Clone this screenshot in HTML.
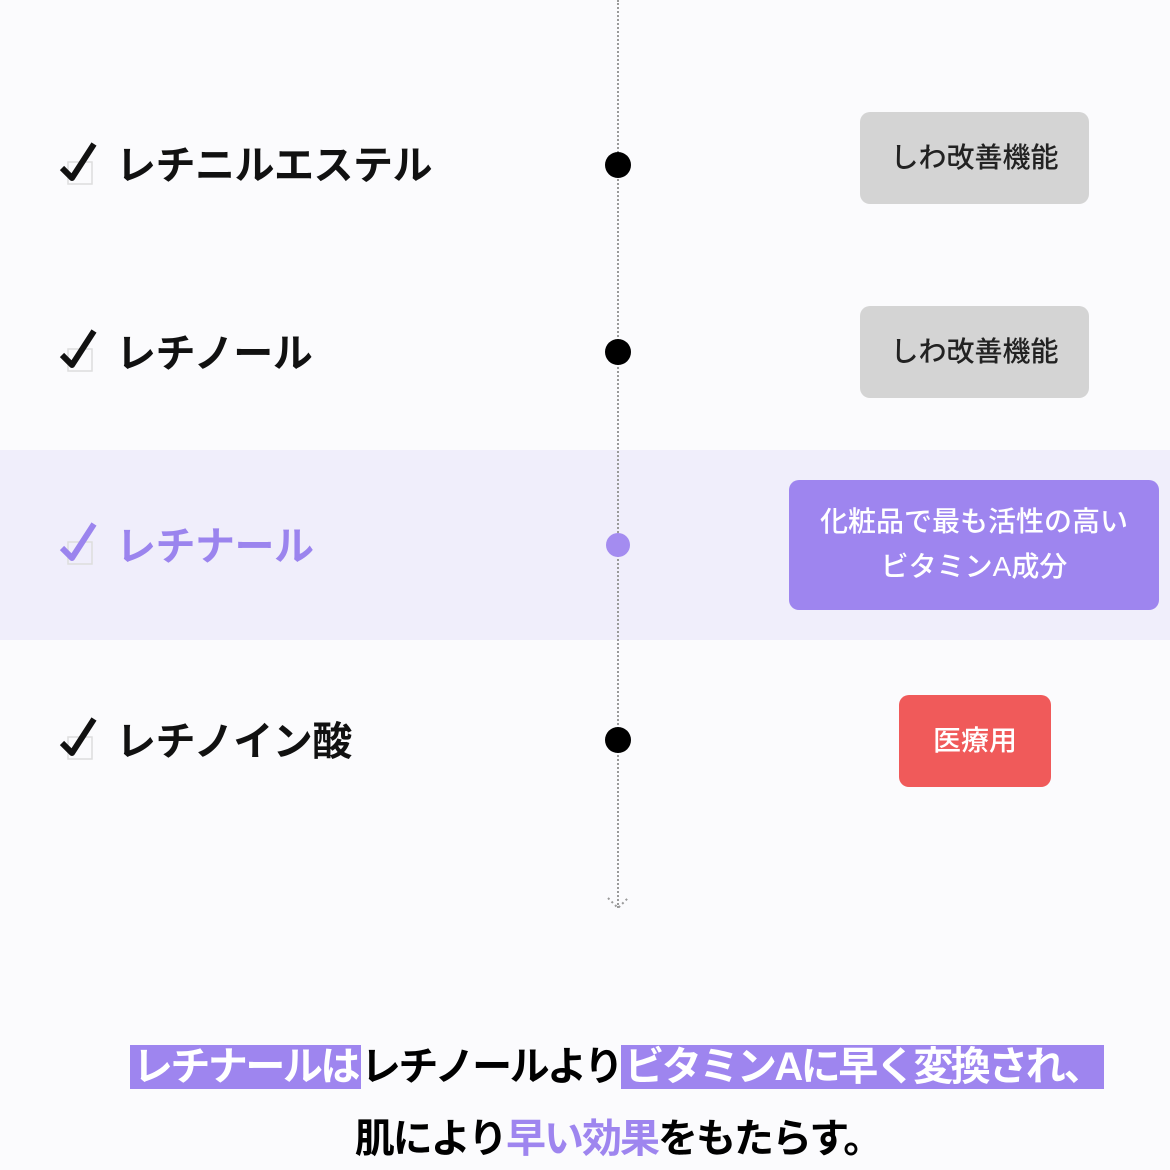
<!DOCTYPE html>
<html><head><meta charset="utf-8"><style>
body{margin:0;width:1170px;height:1170px;background:#fbfbfd;position:relative;overflow:hidden;font-family:"Liberation Sans","Noto Sans CJK JP",sans-serif;}
.a{position:absolute}
.lbl{position:absolute;left:116px;font-size:40px;font-weight:bold;color:#111;line-height:1;white-space:nowrap;letter-spacing:-0.5px}
.chk{position:absolute;left:58px;width:40px;height:46px}
.box{position:absolute;border-radius:10px;display:flex;align-items:center;justify-content:center;text-align:center;font-size:28px;font-weight:500;line-height:1.6}
.dot{position:absolute;border-radius:50%;background:#000}
.hl{background:#9e85ef;color:#fff}
</style></head><body>
<div class="a" style="left:0;top:450px;width:1170px;height:190px;background:#f0eefb"></div>
<div class="a" style="left:617px;top:0;height:908px;border-left:2px dotted #9a9a9a"></div>
<svg class="a" style="left:605px;top:892px" width="28" height="22"><path d="M3 6 L13 16 L23 6" fill="none" stroke="#999" stroke-width="2" stroke-dasharray="2 3"/></svg>

<svg class="chk" style="top:140px" viewBox="0 0 40 46"><rect x="10" y="22" width="24" height="22" fill="none" stroke="#ddd" stroke-width="1.5"/><path d="M4 28 L14 38 L36 4" fill="none" stroke="#111" stroke-width="6" stroke-linejoin="round"/></svg>
<div class="lbl" style="top:146px">レチニルエステル</div>
<svg class="chk" style="top:327px" viewBox="0 0 40 46"><rect x="10" y="22" width="24" height="22" fill="none" stroke="#ddd" stroke-width="1.5"/><path d="M4 28 L14 38 L36 4" fill="none" stroke="#111" stroke-width="6" stroke-linejoin="round"/></svg>
<div class="lbl" style="top:334px">レチノール</div>
<svg class="chk" style="top:520px" viewBox="0 0 40 46"><rect x="10" y="22" width="24" height="22" fill="none" stroke="#ddd" stroke-width="1.5"/><path d="M4 28 L14 38 L36 4" fill="none" stroke="#9b84ee" stroke-width="6" stroke-linejoin="round"/></svg>
<div class="lbl" style="top:527px;color:#9b84ee">レチナール</div>
<svg class="chk" style="top:715px" viewBox="0 0 40 46"><rect x="10" y="22" width="24" height="22" fill="none" stroke="#ddd" stroke-width="1.5"/><path d="M4 28 L14 38 L36 4" fill="none" stroke="#111" stroke-width="6" stroke-linejoin="round"/></svg>
<div class="lbl" style="top:722px">レチノイン酸</div>

<div class="dot" style="left:605px;top:152px;width:26px;height:26px"></div>
<div class="dot" style="left:605px;top:339px;width:26px;height:26px"></div>
<div class="dot" style="left:606px;top:533px;width:24px;height:24px;background:#a48cf0"></div>
<div class="dot" style="left:605px;top:727px;width:26px;height:26px"></div>

<div class="box" style="left:860px;top:112px;width:229px;height:92px;background:#d4d4d4;color:#222">しわ改善機能</div>
<div class="box" style="left:860px;top:306px;width:229px;height:92px;background:#d4d4d4;color:#222">しわ改善機能</div>
<div class="box" style="left:789px;top:480px;width:370px;height:130px;background:#9e85ef;color:#fff">化粧品で最も活性の高い<br>ビタミンA成分</div>
<div class="box" style="left:899px;top:695px;width:152px;height:92px;background:#f05a5a;color:#fff">医療用</div>

<div class="a" style="left:32px;width:1170px;top:1040px;text-align:center;font-size:40px;font-weight:bold;line-height:54px;letter-spacing:-2.5px;white-space:nowrap"><span class="hl" style="padding:0 3px">レチナールは</span>レチノールより<span class="hl" style="padding:0 3px">ビタミンAに早く変換され、</span></div>
<div class="a" style="left:18px;width:1200px;top:1112px;text-align:center;font-size:40px;font-weight:bold;line-height:54px;letter-spacing:-2px;white-space:nowrap">肌により<span style="color:#9e85ef">早い効果</span>をもたらす。</div>
</body></html>
